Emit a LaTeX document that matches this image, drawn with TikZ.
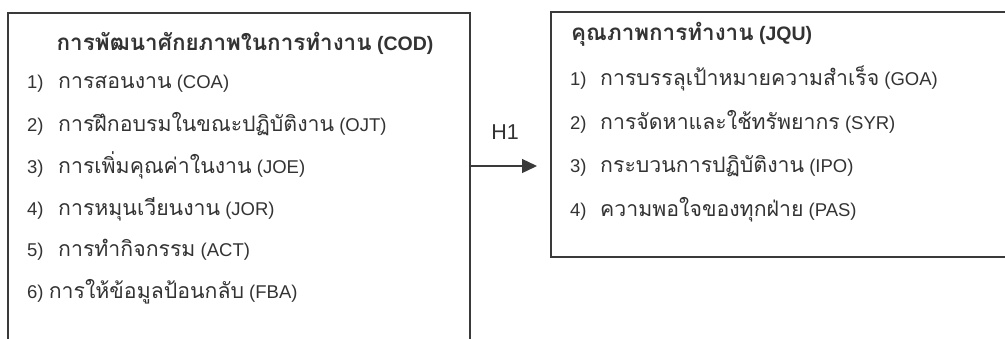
\documentclass[tikz,border=0pt]{standalone}
\usepackage{fontspec}
\setmainfont{Liberation Sans}
\newfontfamily\thaifont[Script=Thai,Scale=1.15]{Loma}
\usetikzlibrary{arrows.meta}
\newcommand{\tx}[1]{{\thaifont #1}}
\definecolor{ink}{HTML}{333333}
\definecolor{frame}{HTML}{3A3A3A}
\tikzset{
  boxframe/.style={draw=frame, line width=1.6pt, rectangle, inner sep=0pt, anchor=north west},
  itemtext/.style={anchor=base west, inner sep=0pt, text=ink, font=\fontsize{18.5}{22}\selectfont},
  titletext/.style={anchor=base, inner sep=0pt, text=ink, font=\bfseries\fontsize{19.5}{23}\selectfont},
  linkarrow/.style={draw=frame, line width=1.3pt, -{Triangle[length=15pt,width=14pt]}},
  hlabel/.style={inner sep=0pt, text=ink, font=\fontsize{21.5}{24}\selectfont}
}
\begin{document}
\begin{tikzpicture}[x=1pt,y=-1pt]
\useasboundingbox (0,0) rectangle (1005,338);
\clip (0,0) rectangle (1005,338);
% boxes (partly outside the picture)
\node[boxframe, minimum width=462pt, minimum height=360pt] (cod) at (7,12) {};
\node[boxframe, minimum width=470pt, minimum height=245pt] (jqu) at (550,11) {};
% left box texts
\node[titletext] (codt) at (245,50) {\tx{การพัฒนาศักยภาพในการทำงาน} (COD)};
\node[itemtext] (c1n) at (27,88) {1)};
\node[itemtext] (c1) at (58,88) {\tx{การสอนงาน} (COA)};
\node[itemtext] (c2n) at (27,131) {2)};
\node[itemtext] (c2) at (58,131) {\tx{การฝึกอบรมในขณะปฏิบัติงาน} (OJT)};
\node[itemtext] (c3n) at (27,173) {3)};
\node[itemtext] (c3) at (58,173) {\tx{การเพิ่มคุณค่าในงาน} (JOE)};
\node[itemtext] (c4n) at (27,215) {4)};
\node[itemtext] (c4) at (58,215) {\tx{การหมุนเวียนงาน} (JOR)};
\node[itemtext] (c5n) at (27,256) {5)};
\node[itemtext] (c5) at (58,256) {\tx{การทำกิจกรรม} (ACT)};
\node[itemtext] (c6) at (27,298) {6) \tx{การให้ข้อมูลป้อนกลับ} (FBA)};
% right box texts
\node[titletext, anchor=base west] (jqut) at (571,40) {\tx{คุณภาพการทำงาน} (JQU)};
\node[itemtext] (j1n) at (570,85) {1)};
\node[itemtext] (j1) at (600,85) {\tx{การบรรลุเป้าหมายความสำเร็จ} (GOA)};
\node[itemtext] (j2n) at (570,129) {2)};
\node[itemtext] (j2) at (600,129) {\tx{การจัดหาและใช้ทรัพยากร} (SYR)};
\node[itemtext] (j3n) at (570,172) {3)};
\node[itemtext] (j3) at (600,172) {\tx{กระบวนการปฏิบัติงาน} (IPO)};
\node[itemtext] (j4n) at (570,216) {4)};
\node[itemtext] (j4) at (600,216) {\tx{ความพอใจของทุกฝ่าย} (PAS)};
% connector
\coordinate (ay) at (0,166);
\draw[linkarrow] (cod.east |- ay) -- ([xshift=-13pt]jqu.west |- ay);
\node[hlabel] (h1) at (505,132) {H1};
\end{tikzpicture}
\end{document}
